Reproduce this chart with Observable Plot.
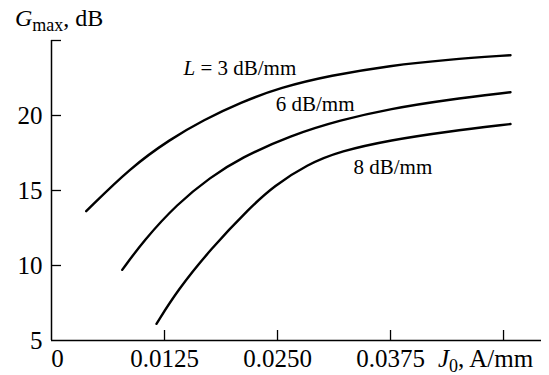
<!DOCTYPE html>
<html>
<head>
<meta charset="utf-8">
<script src="https://cdn.jsdelivr.net/npm/d3@7"></script>
<script src="https://cdn.jsdelivr.net/npm/@observablehq/plot@0.6"></script>
<style>
  html, body { margin: 0; padding: 0; background: #fff; }
  #chart svg { display: block; }
  #chart svg text { font-family: "Liberation Serif", "Times New Roman", Times, "DejaVu Serif", serif; }
</style>
</head>
<body>
<div id="chart"></div>
<script>
// ---- data ----
const seriesNames = ["L = 3 dB/mm", "6 dB/mm", "8 dB/mm"];

const j0_L3 = [0.00384, 0.00874, 0.01316, 0.01681, 0.02091, 0.02533, 0.03086, 0.0375, 0.04377, 0.05077];
const g_L3  = [13.62, 16.53, 18.43, 19.70, 20.87, 21.87, 22.67, 23.33, 23.73, 24.02];

const j0_L6 = [0.00782, 0.01021, 0.01390, 0.01759, 0.02091, 0.02644, 0.03197, 0.0375, 0.04377, 0.05077];
const g_L6  = [9.71, 11.67, 14.11, 15.89, 17.17, 18.67, 19.70, 20.45, 21.05, 21.55];

const j0_L8 = [0.01161, 0.01390, 0.01759, 0.02201, 0.02459, 0.02829, 0.03197, 0.0375, 0.04377, 0.05077];
const g_L8  = [6.11, 8.32, 11.09, 13.89, 15.29, 16.74, 17.63, 18.36, 18.93, 19.43];

// label anchors (data units)
const labelJ0 = [0.0146, 0.0248, 0.0334];
const labelG  = [22.67, 20.33, 16.07];

// ticks
const xTickMarks = [0.0125, 0.025, 0.0375, 0.05];
const xLabelVals = [0, 0.0125, 0.025, 0.0375];
const xLabelText = ["0", "0.0125", "0.0250", "0.0375"];
const yTickMarks = [10, 15, 20, 25];
const yLabelVals = [5, 10, 15, 20];

// ---- build table ----
const rows = [];
[[j0_L3, g_L3], [j0_L6, g_L6], [j0_L8, g_L8]].forEach(([xs, ys], s) => {
  xs.forEach((x, i) => rows.push({series: seriesNames[s], j: x, g: ys[i]}));
});
const labels = seriesNames.map((n, i) => ({name: n, j: labelJ0[i], g: labelG[i]}));

const font = "'Liberation Serif', 'Times New Roman', Times, 'DejaVu Serif', serif";

const plot = Plot.plot({
  width: 549,
  height: 375,
  marginLeft: 51,
  marginRight: 8,
  marginTop: 40,
  marginBottom: 35,
  style: {fontFamily: font, background: "white", color: "black"},
  x: {domain: [0, 0.0542], axis: null, label: null},
  y: {domain: [5, 25], axis: null, label: null},
  marks: [
    Plot.axisX(xTickMarks, {tickSize: -10, tickFormat: () => "", strokeWidth: 1.3, label: null}),
    Plot.axisX(xLabelVals, {tickSize: 0, tickPadding: 9, fontSize: 25, label: null,
      tickFormat: d => xLabelText[xLabelVals.indexOf(d)]}),
    Plot.axisY(yTickMarks, {tickSize: -10, tickFormat: () => "", strokeWidth: 1.3, label: null}),
    Plot.axisY(yLabelVals, {tickSize: 0, tickPadding: 9, fontSize: 25, label: null, tickFormat: d => String(d)}),
    Plot.ruleX([0], {strokeWidth: 1.5}),
    Plot.ruleY([5], {strokeWidth: 1.5}),
    Plot.line(rows, {x: "j", y: "g", z: "series", curve: "basis", stroke: "black", strokeWidth: 2.4}),
    Plot.text(labels, {x: "j", y: "g", text: "name", textAnchor: "start", lineAnchor: "bottom", fontSize: 21, fill: "black"})
  ]
});

document.getElementById("chart").appendChild(plot);

const svg = d3.select(plot);

// nudge the "0" tick label slightly right, as in the reference
svg.selectAll("text").filter(function() { return this.textContent === "0" && !this.closest("tspan"); })
  .attr("dx", 6);

// italic L in first label
svg.selectAll("text").filter(function() { return this.textContent === seriesNames[0]; })
  .each(function() {
    const t = d3.select(this);
    t.text(null);
    t.append("tspan").attr("font-style", "italic").text("L");
    t.append("tspan").text(" = 3 dB/mm");
  });

// axis titles with subscripts
const yt = svg.append("text").attr("x", 15).attr("y", 26).attr("text-anchor", "start")
  .attr("font-size", 24).attr("fill", "black");
yt.append("tspan").attr("font-style", "italic").text("G");
yt.append("tspan").attr("font-size", 18).attr("dy", 5).text("max");
yt.append("tspan").attr("dy", -5).text(", dB");

const xt = svg.append("text").attr("x", 438).attr("y", 367).attr("text-anchor", "start")
  .attr("font-size", 25).attr("fill", "black");
xt.append("tspan").attr("font-style", "italic").text("J");
xt.append("tspan").attr("font-size", 18).attr("dy", 5).text("0");
xt.append("tspan").attr("dy", -5).text(", A/mm");
</script>
</body>
</html>
